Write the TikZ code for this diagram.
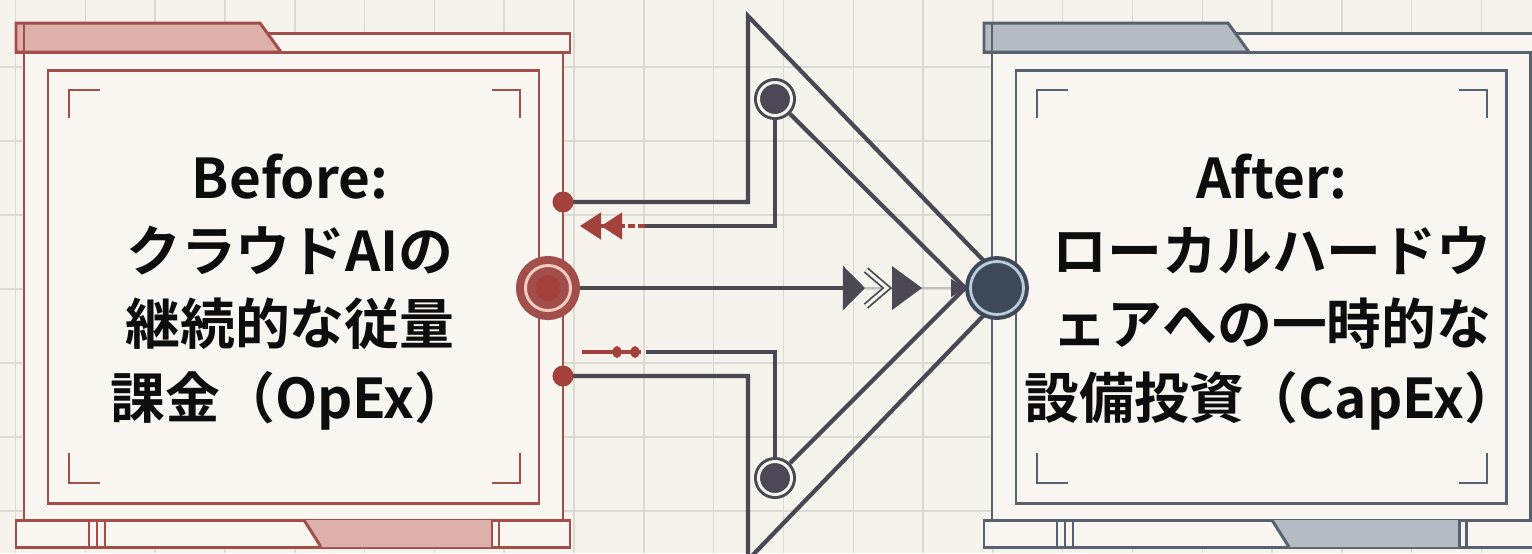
\documentclass[tikz,border=0pt]{standalone}
\usepackage{fontspec}
\newfontfamily\jpfont{Noto Sans CJK JP}[BoldFont={Noto Sans CJK JP Bold}]
\usetikzlibrary{arrows.meta}

\definecolor{paper}{HTML}{F6F3EC}
\definecolor{gridc}{HTML}{DCD9D2}
\definecolor{panel}{HTML}{F9F6F1}
\definecolor{redc}{HTML}{A24F4B}
\definecolor{redtab}{HTML}{DDB0AC}
\definecolor{reddot}{HTML}{A3413D}
\definecolor{redring}{HTML}{F2CBC6}
\definecolor{bluec}{HTML}{56626F}
\definecolor{bluetab}{HTML}{B4BBC3}
\definecolor{bluedot}{HTML}{3D4959}
\definecolor{bluering}{HTML}{BCCBDA}
\definecolor{slate}{HTML}{4B4853}
\definecolor{subdot}{HTML}{4E4757}

\pgfdeclarelayer{base}
\pgfdeclarelayer{wires}
\pgfsetlayers{base,wires,main}

\begin{document}
\begin{tikzpicture}[
    x=0.01cm, y=-0.01cm,
    gridl/.style={gridc, line width=0.4pt},
    frameline/.style={line width=0.85pt},
    corner/.style={line width=0.6pt},
    chev/.style={draw=slate, line width=1.2pt},
    redmark/.style={draw=reddot, line width=0.9pt},
    dot/.style={circle, fill=reddot, inner sep=0pt, minimum size=0.21cm},
    hub/.style={circle, inner sep=0pt},
    subhub/.style={circle, draw=slate, fill=subdot, double=paper, double distance=0.85pt, line width=0.85pt, inner sep=0pt, outer sep=1.3pt, minimum size=0.33cm},
    caption/.style={font=\jpfont\bfseries\fontsize{15.6pt}{20.8pt}\selectfont, align=center, text=black!95}
]
\useasboundingbox (0,0) rectangle (1532,553);

% paper and grid
\begin{pgfonlayer}{base}
\fill[paper] (0,0) rectangle (1532,553);
\foreach \gx in {0,...,21}
    \draw[gridl] ({15.6+69.8*\gx},0) -- ({15.6+69.8*\gx},553);
\foreach \gy in {0,...,7}
    \draw[gridl] (0,{-7+74*\gy}) -- (1532,{-7+74*\gy});

% the two panels
\foreach \pl/\pr/\pc/\pt in {16/570/redc/redtab, 984/1537/bluec/bluetab} {
    \fill[panel] ({\pl+8},52) rectangle ({\pr-7},520);
    \draw[\pc, frameline] ({\pl+8},52) -- ({\pl+8},520) ({\pr-7},52) -- ({\pr-7},520);
    \draw[\pc, frameline, fill=panel] ({\pl+32},70) rectangle ({\pr-31},503);
    % top bar with tab
    \draw[\pc, frameline, fill=panel] (\pl,33) rectangle (\pr,52);
    \draw[\pc, frameline, fill=\pt] (\pl,23) -- ({\pl+244},23) -- ({\pl+265},52) -- (\pl,52) -- cycle;
    \draw[\pc, frameline] ({\pl+8},23) -- ({\pl+8},52);
    % bottom bar
    \draw[\pc, frameline, fill=panel] (\pl,520) rectangle (\pr,547);
    \fill[\pt] ({\pl+288},520) -- ({\pr-78},520) -- ({\pr-78},547) -- ({\pl+305},547) -- cycle;
    \draw[\pc, frameline] ({\pl+288},520) -- ({\pl+305},547);
    \foreach \bx in {73,81,89}
        \draw[\pc, frameline] ({\pl+\bx},520) -- ({\pl+\bx},547);
    \draw[\pc, frameline] ({\pr-78},520) -- ({\pr-78},547) ({\pr-71},520) -- ({\pr-71},547);
    % corner marks
    \draw[\pc, corner] ({\pl+53},118) -- ({\pl+53},90) -- ({\pl+84},90);
    \draw[\pc, corner] ({\pr-78},90) -- ({\pr-50},90) -- ({\pr-50},118);
    \draw[\pc, corner] ({\pl+53},453) -- ({\pl+53},483) -- ({\pl+84},483);
    \draw[\pc, corner] ({\pr-78},483) -- ({\pr-50},483) -- ({\pr-50},453);
}
\end{pgfonlayer}

% captions
\node[caption] (before) at (290,292) {Before:\\クラウドAIの\\継続的な従量\\課金（OpEx）};
\node[caption] (after) at (1272,292) {After:\\ローカルハードウ\\ェアへの一時的な\\設備投資（CapEx）};

% hubs
\node[hub, draw=redc, fill=reddot, double=redring, double distance=0.85pt, line width=2.28pt, outer sep=2.7pt, minimum size=0.45cm] (src) at (548,288) {};
\node[hub, draw=bluedot, fill=bluedot, double=bluering, double distance=0.8pt, line width=1.14pt, outer sep=1.5pt, minimum size=0.53cm] (dst) at (997,288) {};
\node[dot] (updot) at (563,202) {};
\node[dot] (lowdot) at (563,376) {};
\node[subhub] (upnode) at (775,99) {};
\node[subhub] (lownode) at (775,478) {};

\coordinate (apexT) at (748,16);
\coordinate (apexB) at (748,560);
\coordinate (tip) at (1010,288);
\coordinate (retA) at (645,226);
\coordinate (retB) at (621,226);
\coordinate (retC) at (580,226);
\coordinate (fwdA) at (646,352);
\coordinate (fwdB) at (641,352);
\coordinate (fwdC) at (582,352);
\coordinate (midA) at (865,288);

\begin{pgfonlayer}{wires}
% big arrow outline
\draw[chev] (updot.center) -- (updot.center -| apexT) -- (apexT) -- (tip) -- (apexB) -- (lowdot.center -| apexB) -- (lowdot.center);
% inner paths
\draw[chev] (upnode) |- (retA);
\draw[chev] (upnode) -- (dst.west);
\draw[chev] (lownode) |- (fwdA);
\draw[chev] (lownode) -- (dst.west);
\draw[redmark, dash pattern=on 2pt off 0.9pt] (retA) -- (retB);
\draw[redmark, -{Triangle[length=6pt,width=7.6pt]Triangle[length=6pt,width=7.6pt]}] (retB) -- (retC);
\draw[redmark] (fwdB) -- (fwdC);
% middle flow
\draw[chev, -{Triangle[length=6.3pt,width=12.5pt]}] (src) -- (midA);
\draw[draw=slate!35, line width=0.6pt, -{Triangle[length=4pt,width=5pt,color=slate]}] (midA) -- (dst.west);
\end{pgfonlayer}

\fill[reddot] (617,352) ellipse [x radius=0.045cm, y radius=0.06cm];
\fill[reddot] (635,352) ellipse [x radius=0.045cm, y radius=0.06cm];
\draw[slate, line width=0.5pt, double=paper, double distance=0.9pt] (866,270) -- (887,288) -- (866,306);
\fill[slate] (892,266) -- (922,288) -- (892,310) -- cycle;
\end{tikzpicture}
\end{document}
